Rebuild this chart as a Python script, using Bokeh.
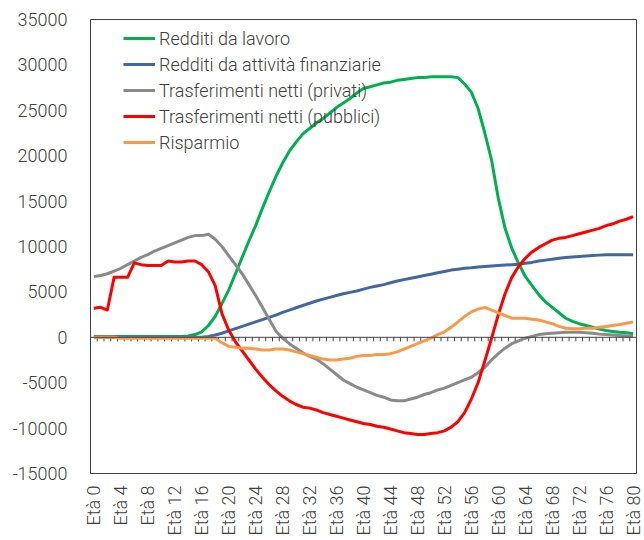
from bokeh.plotting import figure
from bokeh.models import Span, FixedTicker, Legend, LegendItem
from bokeh.embed import file_html
from bokeh.resources import INLINE
import math

ages = list(range(81))

lavoro = [100]*14 + [150, 300, 600, 1300, 2300, 3700, 5200, 7000, 8800, 10600,
          12300, 14200, 16000, 17700, 19200, 20500, 21500, 22400, 23000, 23600,
          24100, 24700, 25300, 25800, 26300, 26900, 27400, 27600, 27800, 28000,
          28100, 28300, 28400, 28500, 28600, 28600, 28700, 28700, 28700, 28700,
          28600, 27900, 27000, 25200, 22500, 19500, 15300, 12000, 9800, 8150,
          6700, 5700, 4700, 3900, 3300, 2700, 2100, 1750, 1500, 1300,
          1100, 900, 750, 650, 550, 500, 400]

finanziarie = [0]*17 + [100, 250, 450, 700, 950, 1200, 1450, 1700, 1950, 2200,
               2450, 2750, 3000, 3250, 3500, 3750, 4000, 4200, 4400, 4600,
               4800, 4950, 5100, 5300, 5500, 5650, 5800, 6000, 6200, 6350,
               6500, 6650, 6800, 6950, 7100, 7250, 7400, 7500, 7600, 7650,
               7750, 7800, 7850, 7900, 7950, 8000, 8050, 8150, 8250, 8400,
               8500, 8600, 8700, 8800, 8850, 8900, 8950, 9000, 9050, 9100,
               9100, 9100, 9100, 9100]

privati = [6700, 6800, 7000, 7300, 7600, 8000, 8400, 8800, 9100, 9500,
           9800, 10100, 10400, 10700, 11000, 11200, 11200, 11350, 10800, 10000,
           9000, 8000, 7000, 5800, 4600, 3300, 2000, 700, -100, -700,
           -1200, -1700, -2100, -2400, -2900, -3500, -4100, -4700, -5100, -5500,
           -5800, -6100, -6400, -6600, -6900, -7000, -7000, -6800, -6600, -6300,
           -6100, -5800, -5600, -5300, -5000, -4700, -4400, -3900, -3300, -2500,
           -1800, -1200, -700, -400, -100, 100, 300, 400, 450, 500,
           550, 550, 550, 500, 450, 350, 300, 250, 200, 150, 100]

pubblici = [3200, 3300, 3000, 6600, 6600, 6600, 8200, 8000, 7900, 7900,
            7900, 8400, 8300, 8300, 8400, 8400, 8000, 7200, 5700, 2600,
            800, -500, -1500, -2500, -3500, -4400, -5200, -5900, -6500, -7000,
            -7400, -7700, -7800, -8000, -8300, -8500, -8700, -8900, -9100, -9300,
            -9500, -9600, -9800, -9900, -10100, -10300, -10500, -10600, -10700, -10700,
            -10600, -10500, -10300, -9900, -9300, -8300, -6800, -5000, -2600, -100,
            2500, 4800, 6600, 7800, 8700, 9400, 9900, 10300, 10700, 10900,
            11000, 11200, 11400, 11600, 11800, 12000, 12300, 12500, 12800, 13000, 13300]

risparmio = [0, 0, 0, 0] + [-100]*15 + [-600, -1000, -1100, -1200, -1200,
             -1300, -1400, -1400, -1300, -1300, -1400, -1600, -1800, -2000, -2200,
             -2400, -2500, -2500, -2400, -2300, -2100, -2000, -2000, -1900, -1900,
             -1800, -1600, -1300, -1000, -700, -400, -100, 300, 600, 1100,
             1700, 2300, 2800, 3100, 3300, 3000, 2700, 2400, 2100, 2100,
             2100, 2000, 1900, 1700, 1500, 1200, 1000, 950, 950, 1000,
             1000, 1100, 1200, 1300, 1400, 1550, 1700]

series_names = ["Redditi da lavoro", "Redditi da attività finanziarie",
                "Trasferimenti netti (privati)", "Trasferimenti netti (pubblici)",
                "Risparmio"]
series_values = [lavoro, finanziarie, privati, pubblici, risparmio]
series_colors = ["#00B050", "#44679C", "#8A8A8A", "#FF0000", "#F89A4A"]

label_ages = list(range(0, 81, 4))
y_ticks = list(range(-15000, 35001, 5000))

FONT = "Roboto Light"
TXT = "#404040"
FS = "18px"

p = figure(width=644, height=540, output_backend="svg", toolbar_location=None,
           x_range=(-0.5, 80.5), y_range=(-15000, 35000),
           min_border_left=90, min_border_top=19, min_border_right=8,
           min_border_bottom=67)
p.grid.visible = False
p.outline_line_color = "#404040"
p.outline_line_width = 1
p.background_fill_color = "white"
p.border_fill_color = "white"

# x axis (labels at the bottom)
p.xaxis.ticker = FixedTicker(ticks=label_ages)
p.xaxis.major_label_overrides = {a: f"Età {a}" for a in label_ages}
p.xaxis.major_label_orientation = math.pi / 2
p.xaxis.axis_line_color = None
p.xaxis.major_tick_line_color = None
p.xaxis.minor_tick_line_color = None
p.xaxis.major_label_standoff = 6
p.xaxis.major_label_text_font = FONT
p.xaxis.major_label_text_font_size = FS
p.xaxis.major_label_text_color = TXT

# y axis
p.yaxis.ticker = FixedTicker(ticks=y_ticks)
p.yaxis.major_label_overrides = {t: str(t) for t in y_ticks}
p.yaxis.axis_line_color = None
p.yaxis.major_tick_line_color = None
p.yaxis.minor_tick_line_color = None
p.yaxis.major_label_standoff = 17
p.yaxis.major_label_text_font = FONT
p.yaxis.major_label_text_font_size = FS
p.yaxis.major_label_text_color = TXT

# zero axis line with category tick marks
p.add_layout(Span(location=0, dimension="width", line_color="#404040", line_width=1))
bounds = [a - 0.5 for a in ages] + [ages[-1] + 0.5]
p.segment(x0=bounds, y0=[0]*len(bounds), x1=bounds, y1=[-450]*len(bounds),
          line_color="#404040", line_width=1)

items = []
for name, vals, col in zip(series_names, series_values, series_colors):
    r = p.line(ages, vals, line_color=col, line_width=3, line_join="round")
    items.append(LegendItem(label=name, renderers=[r]))

legend = Legend(items=items, location=(33, 320))
legend.border_line_color = None
legend.background_fill_alpha = 0
legend.padding = 10
legend.margin = 0
legend.spacing = 4
legend.glyph_width = 32
legend.glyph_height = 22
legend.label_height = 22
legend.label_standoff = 4
legend.label_text_font = FONT
legend.label_text_font_size = FS
legend.label_text_color = TXT
p.add_layout(legend)

open("out.html", "w").write(file_html(p, INLINE))
